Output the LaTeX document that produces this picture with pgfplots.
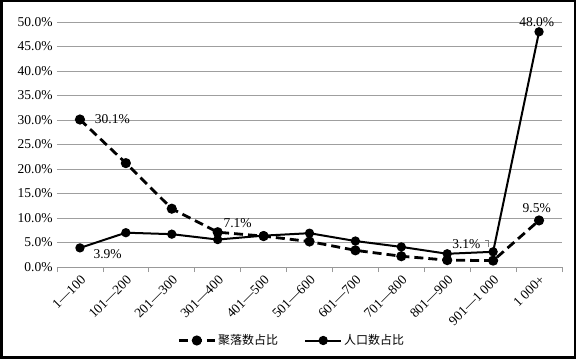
\documentclass[border=0pt]{standalone}
\usepackage{pgfplots}
\pgfplotsset{compat=1.18}
\usepackage{fontspec}
\setmainfont{Liberation Serif}
\newfontfamily\cjk{Noto Sans CJK SC}
\begin{document}
\begin{tikzpicture}[x=1pt,y=1pt]
\useasboundingbox (0,0) rectangle (576,359);
\begin{axis}[
  at={(57pt,92pt)}, anchor=south west,
  scale only axis, width=505pt, height=245pt,
  xmin=-0.5, xmax=10.5, ymin=0, ymax=50,
  axis x line*=bottom, axis y line*=left,
  axis line style={-},
  x axis line style={gray!80, line width=0.8pt},
  y axis line style={draw=none},
  ytick={0,5,...,50},
  yticklabel={\pgfmathprintnumber[fixed,fixed zerofill,precision=1]{\tick}\%},
  /pgf/number format/assume math mode=true,
  ymajorgrids, grid style={gray!75, line width=0.8pt},
  ytick style={draw=none},
  xtick={0,...,10},
  xticklabels={1—100,101—200,201—300,301—400,401—500,501—600,601—700,701—800,801—900,901—1 000,1 000+},
  x tick label style={rotate=45, anchor=north east, font=\fontsize{13.5}{15}\selectfont, inner sep=2pt},
  y tick label style={font=\fontsize{13.5}{15}\selectfont, inner sep=1pt, xshift=1pt},
  major x tick style={draw=none},
  minor xtick={-0.5,0.5,...,10.5},
  minor tick length=5pt,
  minor x tick style={gray!80, line width=0.8pt},
  tick align=outside,
  legend style={at={(0.465,-0.30)}, anchor=center, draw=none, legend columns=2,
    font=\cjk\fontsize{12}{14}\selectfont,
    /tikz/every even column/.append style={column sep=24pt}},
  legend image code/.code={\draw[mark repeat=2,mark phase=2] plot coordinates {(0pt,0pt)(18pt,0pt)(36pt,0pt)};},
  clip=false,
]
\addplot[black, line width=2.8pt, dash pattern=on 9pt off 5pt, mark=*, mark size=3.6pt, mark options={solid}]
  coordinates {(0,30.1)(1,21.2)(2,11.9)(3,7.1)(4,6.3)(5,5.2)(6,3.4)(7,2.2)(8,1.4)(9,1.3)(10,9.5)};
\addlegendentry{聚落数占比}
\addplot[black, line width=2pt, mark=*, mark size=3.6pt]
  coordinates {(0,3.9)(1,7.0)(2,6.7)(3,5.6)(4,6.4)(5,6.9)(6,5.3)(7,4.1)(8,2.7)(9,3.1)(10,48.0)};
\addlegendentry{人口数占比}
\node[anchor=west, font=\fontsize{13.5}{15}\selectfont] at (axis cs:0.25,30.1) {30.1\%};
\node[anchor=north west, font=\fontsize{13.5}{15}\selectfont] at (axis cs:0.22,4.3) {3.9\%};
\node[anchor=south west, font=\fontsize{13.5}{15}\selectfont] at (axis cs:3.05,7.4) {7.1\%};
\node[anchor=south east, font=\fontsize{13.5}{15}\selectfont] at (axis cs:8.8,3.0) {3.1\%};
\draw[gray, line width=0.6pt] (axis cs:8.83,5.5) -- (axis cs:8.9,5.5) -- (axis cs:8.9,4.0);
\node[anchor=south, font=\fontsize{13.5}{15}\selectfont] at (axis cs:9.95,48.4) {48.0\%};
\node[anchor=south, font=\fontsize{13.5}{15}\selectfont] at (axis cs:9.95,10.3) {9.5\%};
\end{axis}
\draw[black, line width=2.5pt] (1.25,1.25) rectangle (574.75,357.75);
\end{tikzpicture}
\end{document}
